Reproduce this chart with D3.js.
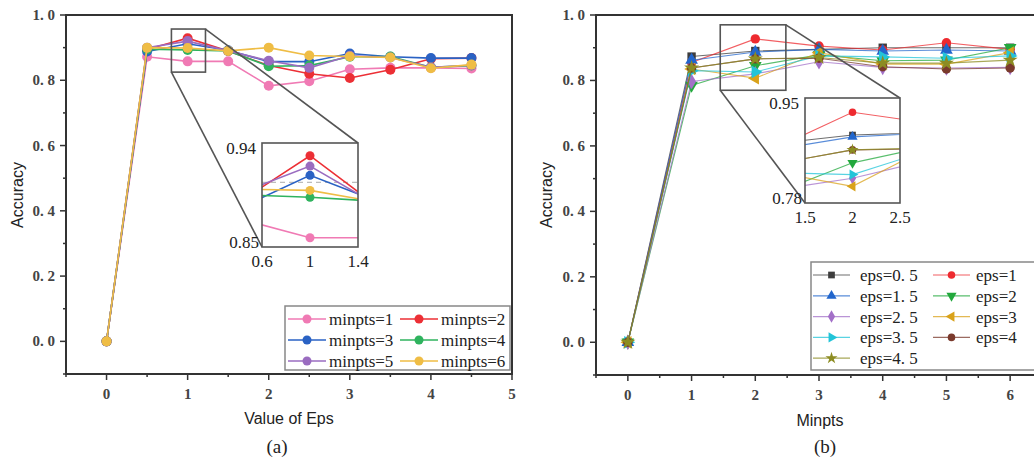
<!DOCTYPE html>
<html lang="en">
<head>
<meta charset="UTF-8">
<title>DBSCAN accuracy</title>
<script src="https://d3js.org/d3.v7.min.js"></script>
<style>
  body { margin: 0; padding: 0; background: #fff; }
  svg { display: block; }
  .tick-label { font-family: "Liberation Serif", serif; font-weight: bold; font-size: 15px; fill: #444; }
  .ax-title { font-family: "Liberation Sans", Arial, sans-serif; font-size: 16px; fill: #222; }
  .cap { font-family: "Liberation Serif", serif; font-size: 19px; fill: #222; }
  .inset-label { font-family: "Liberation Serif", serif; font-size: 17px; fill: #222; }
  .legend-text { font-family: "Liberation Serif", serif; font-size: 17px; fill: #222; }
</style>
</head>
<body>
<svg width="1034" height="460"></svg>
<script>
// ---- panel (a): accuracy vs eps, one line per minpts
const epsValues = [0, 0.5, 1, 1.5, 2, 2.5, 3, 3.5, 4, 4.5];
const minptsNames = ["minpts=1", "minpts=2", "minpts=3", "minpts=4", "minpts=5", "minpts=6"];
const minpts1 = [0, 0.872, 0.858, 0.858, 0.783, 0.797, 0.834, 0.838, 0.838, 0.836];
const minpts2 = [0, 0.895, 0.929, 0.890, 0.845, 0.820, 0.807, 0.832, 0.866, 0.868];
const minpts3 = [0, 0.888, 0.912, 0.892, 0.857, 0.857, 0.882, 0.872, 0.868, 0.868];
const minpts4 = [0, 0.895, 0.893, 0.890, 0.843, 0.845, 0.872, 0.873, 0.840, 0.845];
const minpts5 = [0, 0.900, 0.920, 0.890, 0.860, 0.838, 0.875, 0.870, 0.840, 0.846];
const minpts6 = [0, 0.900, 0.899, 0.890, 0.900, 0.876, 0.873, 0.870, 0.837, 0.848];
const minptsColors = ["#f07ab4", "#ec2f35", "#2a62c4", "#2fb35e", "#9a6cc0", "#efbd45"];
const insetARef = 0.906;

// ---- panel (b): accuracy vs minpts, one line per eps
const minptsValues = [0, 1, 2, 3, 4, 5, 6];
const epsNames = ["eps=0. 5", "eps=1", "eps=1. 5", "eps=2", "eps=2. 5", "eps=3", "eps=3. 5", "eps=4", "eps=4. 5"];
const eps05 = [0, 0.873, 0.890, 0.895, 0.900, 0.900, 0.900];
const eps10 = [0, 0.855, 0.927, 0.905, 0.893, 0.915, 0.895];
const eps15 = [0, 0.862, 0.887, 0.895, 0.890, 0.893, 0.890];
const eps20 = [0, 0.785, 0.845, 0.878, 0.860, 0.862, 0.900];
const eps25 = [0, 0.797, 0.820, 0.857, 0.840, 0.838, 0.840];
const eps30 = [0, 0.835, 0.807, 0.885, 0.850, 0.850, 0.885];
const eps35 = [0, 0.830, 0.826, 0.875, 0.872, 0.868, 0.875];
const eps40 = [0, 0.838, 0.866, 0.868, 0.842, 0.835, 0.838];
const eps45 = [0, 0.838, 0.866, 0.870, 0.853, 0.853, 0.862];
const epsColors = ["#3d3d3d", "#ee2a2f", "#2266cc", "#22a83c", "#a370c8", "#d9a21a", "#22c4d8", "#7a3a2c", "#8c8c22"];
const epsSymbols = ["square", "circle", "up", "down", "diamond", "left", "right", "circle", "star"];
const epsSeries = [eps05, eps10, eps15, eps20, eps25, eps30, eps35, eps40, eps45];

const yTicks = [0, 0.2, 0.4, 0.6, 0.8, 1.0];

const svg = d3.select("svg");
const fmtY = d => d3.format(".1f")(d).replace(".", ". ");

function symbolPath(kind, size) {
  let t = d3.symbolCircle, rot = 0;
  if (kind === "square") t = d3.symbolSquare;
  if (kind === "diamond") t = d3.symbolDiamond;
  if (kind === "star") t = d3.symbolStar;
  if (kind === "up") t = d3.symbolTriangle;
  if (kind === "down") { t = d3.symbolTriangle; rot = 180; }
  if (kind === "right") { t = d3.symbolTriangle; rot = 90; }
  if (kind === "left") { t = d3.symbolTriangle; rot = -90; }
  return { d: d3.symbol().type(t).size(size)(), rot };
}

function drawFrame(g, x, y, xTicks, xMinor, yMinor) {
  const [x0, x1] = x.range();
  const [yb, yt] = y.range();
  g.selectAll(".xt").data(xTicks).enter().append("line")
    .attr("x1", d => x(d)).attr("x2", d => x(d))
    .attr("y1", yb).attr("y2", yb + 6)
    .attr("stroke", "#333").attr("stroke-width", 1.5);
  g.selectAll(".xm").data(xMinor).enter().append("line")
    .attr("x1", d => x(d)).attr("x2", d => x(d))
    .attr("y1", yb).attr("y2", yb + 3)
    .attr("stroke", "#333").attr("stroke-width", 1.5);
  g.selectAll(".yt").data(yTicks).enter().append("line")
    .attr("x1", x0 - 6).attr("x2", x0)
    .attr("y1", d => y(d)).attr("y2", d => y(d))
    .attr("stroke", "#333").attr("stroke-width", 1.5);
  g.selectAll(".ym").data(yMinor).enter().append("line")
    .attr("x1", x0 - 3).attr("x2", x0)
    .attr("y1", d => y(d)).attr("y2", d => y(d))
    .attr("stroke", "#333").attr("stroke-width", 1.5);
  g.selectAll(".xl").data(xTicks).enter().append("text")
    .attr("class", "tick-label")
    .attr("x", d => x(d)).attr("y", yb + 25)
    .attr("text-anchor", "middle").text(d => d);
  g.selectAll(".yl").data(yTicks).enter().append("text")
    .attr("class", "tick-label")
    .attr("x", x0 - 11).attr("y", d => y(d) + 5)
    .attr("text-anchor", "end").text(fmtY);
  g.append("rect").attr("x", x0).attr("y", yt)
    .attr("width", x1 - x0).attr("height", yb - yt)
    .attr("fill", "none").attr("stroke", "#333").attr("stroke-width", 2);
}

function drawZoom(g, x, y, box, xs, ys, ticksX, ticksY, drawMarks, clipId) {
  const bx0 = x(box[0]), bx1 = x(box[1]), by0 = y(box[3]), by1 = y(box[2]);
  g.append("rect").attr("x", bx0).attr("y", by0)
    .attr("width", bx1 - bx0).attr("height", by1 - by0)
    .attr("fill", "none").attr("stroke", "#555").attr("stroke-width", 1.6);
  const [ix0, ix1] = xs.range(), [iy1, iy0] = ys.range();
  g.append("line").attr("x1", bx1).attr("y1", by0).attr("x2", ix1).attr("y2", iy0)
    .attr("stroke", "#555").attr("stroke-width", 1.6);
  g.append("line").attr("x1", bx0).attr("y1", by1).attr("x2", ix0).attr("y2", iy1)
    .attr("stroke", "#555").attr("stroke-width", 1.6);
  g.append("rect").attr("x", ix0).attr("y", iy0)
    .attr("width", ix1 - ix0).attr("height", iy1 - iy0)
    .attr("fill", "#fff");
  g.append("clipPath").attr("id", clipId).append("rect")
    .attr("x", ix0).attr("y", iy0).attr("width", ix1 - ix0).attr("height", iy1 - iy0);
  const ig = g.append("g").attr("clip-path", `url(#${clipId})`);
  drawMarks(ig, xs, ys);
  g.append("rect").attr("x", ix0).attr("y", iy0)
    .attr("width", ix1 - ix0).attr("height", iy1 - iy0)
    .attr("fill", "none").attr("stroke", "#555").attr("stroke-width", 1.6);
  g.append("text").attr("class", "inset-label").attr("x", ix0 - 6).attr("y", iy0 + 11)
    .attr("text-anchor", "end").text(ticksY[1]);
  g.append("text").attr("class", "inset-label").attr("x", ix0 - 3).attr("y", iy1 + 1)
    .attr("text-anchor", "end").text(ticksY[0]);
  ticksX.forEach(t => {
    g.append("text").attr("class", "inset-label").attr("x", xs(t)).attr("y", iy1 + 20)
      .attr("text-anchor", "middle").text(t);
  });
}

// ================= panel (a)
{
  const g = svg.append("g");
  const x = d3.scaleLinear().domain([-0.5, 5]).range([66, 512]);
  const y = d3.scaleLinear().domain([-0.1, 1.0]).range([374, 15]);
  drawFrame(g, x, y, [0, 1, 2, 3, 4, 5], [-0.5, 0.5, 1.5, 2.5, 3.5, 4.5],
    [-0.1, 0.1, 0.3, 0.5, 0.7, 0.9]);

  const series = [minpts1, minpts2, minpts3, minpts4, minpts5, minpts6];
  function marks(mg, xs, ys, r) {
    series.forEach((vals, i) => {
      const pts = epsValues.map((e, j) => [e, vals[j]]);
      mg.append("path").datum(pts)
        .attr("d", d3.line().x(d => xs(d[0])).y(d => ys(d[1])))
        .attr("fill", "none").attr("stroke", minptsColors[i]).attr("stroke-width", 1.6);
      mg.selectAll(null).data(pts).enter().append("circle")
        .attr("cx", d => xs(d[0])).attr("cy", d => ys(d[1])).attr("r", r)
        .attr("fill", minptsColors[i]);
    });
  }
  marks(g, x, y, 5);

  const xs = d3.scaleLinear().domain([0.6, 1.4]).range([262, 358]);
  const ys = d3.scaleLinear().domain([0.85, 0.94]).range([247, 143]);
  drawZoom(g, x, y, [0.8, 1.22, 0.825, 0.957], xs, ys, [0.6, 1, 1.4], [0.85, 0.94],
    (ig, a, b) => {
      ig.append("line").attr("x1", a(0.6)).attr("x2", a(1.4))
        .attr("y1", b(insetARef)).attr("y2", b(insetARef))
        .attr("stroke", "#aaa").attr("stroke-dasharray", "5,4").attr("stroke-width", 1);
      marks(ig, a, b, 4.5);
    }, "clipA");

  const lg = g.append("g");
  lg.append("rect").attr("x", 285).attr("y", 306).attr("width", 225).attr("height", 64)
    .attr("fill", "#fff").attr("stroke", "#888").attr("stroke-width", 1.5);
  minptsNames.forEach((name, i) => {
    const col = i % 2, row = Math.floor(i / 2);
    const lx = col === 0 ? 288 : 400, ty = 319 + row * 21;
    lg.append("line").attr("x1", lx).attr("x2", lx + 38).attr("y1", ty).attr("y2", ty)
      .attr("stroke", minptsColors[i]).attr("stroke-width", 1.5);
    lg.append("circle").attr("cx", lx + 19).attr("cy", ty).attr("r", 4.5).attr("fill", minptsColors[i]);
    lg.append("text").attr("class", "legend-text").attr("x", lx + 41).attr("y", ty + 5.5)
      .attr("font-size", "16px").text(name);
  });

  g.append("text").attr("class", "ax-title").attr("x", 289).attr("y", 424)
    .attr("text-anchor", "middle").text("Value of Eps");
  g.append("text").attr("class", "ax-title")
    .attr("transform", "translate(23,195) rotate(-90)")
    .attr("text-anchor", "middle").text("Accuracy");
  g.append("text").attr("class", "cap").attr("x", 277).attr("y", 453)
    .attr("text-anchor", "middle").text("(a)");
}

// ================= panel (b)
{
  const g = svg.append("g");
  const x = d3.scaleLinear().domain([-0.5, 6.5]).range([596, 1042]);
  const y = d3.scaleLinear().domain([-0.1, 1.0]).range([375, 15]);
  drawFrame(g, x, y, [0, 1, 2, 3, 4, 5, 6], [-0.5, 0.5, 1.5, 2.5, 3.5, 4.5, 5.5],
    [-0.1, 0.1, 0.3, 0.5, 0.7, 0.9]);

  function marks(mg, xs, ys, size) {
    epsSeries.forEach((vals, i) => {
      const c = epsColors[i];
      const pts = minptsValues.map((m, j) => [m, vals[j]]);
      mg.append("path").datum(pts)
        .attr("d", d3.line().x(d => xs(d[0])).y(d => ys(d[1])))
        .attr("fill", "none").attr("stroke", c).attr("stroke-width", 1.1)
        .attr("stroke-opacity", 0.75);
      const s = symbolPath(epsSymbols[i], size);
      mg.selectAll(null).data(pts).enter().append("path")
        .attr("d", s.d)
        .attr("transform", d => `translate(${xs(d[0])},${ys(d[1])}) rotate(${s.rot})`)
        .attr("fill", c);
    });
  }
  marks(g, x, y, 70);

  const xs = d3.scaleLinear().domain([1.5, 2.5]).range([805, 900]);
  const ys = d3.scaleLinear().domain([0.78, 0.95]).range([203, 98]);
  drawZoom(g, x, y, [1.45, 2.48, 0.77, 0.97], xs, ys, [1.5, 2, 2.5], ["0.78", "0.95"],
    (ig, a, b) => marks(ig, a, b, 45), "clipB");

  const lg = g.append("g");
  lg.append("rect").attr("x", 811).attr("y", 262).attr("width", 240).attr("height", 108)
    .attr("fill", "#fff").attr("stroke", "#888").attr("stroke-width", 1.5);
  epsNames.forEach((name, i) => {
    const col = i % 2, row = Math.floor(i / 2);
    const lx = col === 0 ? 813 : 933, ty = 275 + row * 20.8;
    const c = epsColors[i];
    lg.append("line").attr("x1", lx).attr("x2", lx + 37).attr("y1", ty).attr("y2", ty)
      .attr("stroke", c).attr("stroke-width", 1.2).attr("stroke-opacity", 0.75);
    const s = symbolPath(epsSymbols[i], 45);
    lg.append("path").attr("d", s.d)
      .attr("transform", `translate(${lx + 18.5},${ty}) rotate(${s.rot})`).attr("fill", c);
    lg.append("text").attr("class", "legend-text").attr("x", col === 0 ? 860 : 976).attr("y", ty + 6)
      .attr("font-size", "18px").text(name);
  });

  g.append("text").attr("class", "ax-title").attr("x", 820).attr("y", 426)
    .attr("text-anchor", "middle").text("Minpts");
  g.append("text").attr("class", "ax-title")
    .attr("transform", "translate(552,195) rotate(-90)")
    .attr("text-anchor", "middle").text("Accuracy");
  g.append("text").attr("class", "cap").attr("x", 825).attr("y", 453)
    .attr("text-anchor", "middle").text("(b)");
}
</script>
</body>
</html>
